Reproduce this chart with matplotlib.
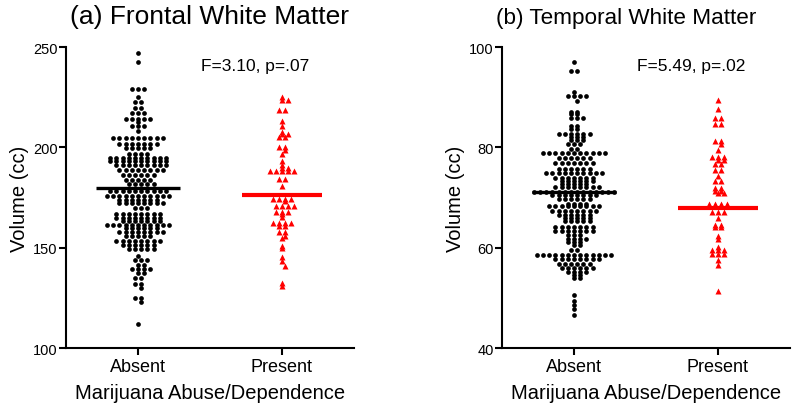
import numpy as np
import matplotlib
matplotlib.use("Agg")
import matplotlib.pyplot as plt

plt.rcParams["font.family"] = ["Liberation Sans", "DejaVu Sans"]

groups = ["Absent", "Present"]

# (a) frontal white matter volume (cc), read row by row off the swarm
frontal_absent = [
    247.0, 242.7,
    229.0, 229.0, 229.0,
    225.3,
    222.7, 222.7,
    219.5, 219.5,
    217.3, 217.3, 217.3,
    214.0, 214.0, 214.0, 214.0, 214.0,
    212.5,
    210.7, 210.7, 210.7,
    208.0,
    204.6, 204.6, 204.6, 204.6, 204.6, 204.6, 204.6, 204.6, 204.6,
    201.6, 201.6, 201.6, 201.6, 201.6, 201.6, 201.6,
    199.7, 199.7, 199.7, 199.7, 199.7,
    196.6, 196.6, 196.6, 196.6,
    194.9, 194.9, 194.9, 194.9, 194.9, 194.9, 194.9, 194.9, 194.9, 194.9,
    193.0, 193.0, 193.0, 193.0, 193.0, 193.0, 193.0, 193.0, 193.0, 193.0,
    191.0, 191.0, 191.0, 191.0, 191.0, 191.0, 191.0, 191.0, 191.0,
    188.6, 188.6, 188.6, 188.6, 188.6, 188.6, 188.6, 188.6,
    186.0, 186.0, 186.0, 186.0, 186.0, 186.0,
    183.8, 183.8, 183.8, 183.8, 183.8,
    181.5, 181.5, 181.5, 181.5, 181.5,
    178.4, 178.4, 178.4, 178.4, 178.4, 178.4, 178.4, 178.4, 178.4, 178.4,
    175.9, 175.9, 175.9, 175.9, 175.9, 175.9, 175.9, 175.9, 175.9, 175.9, 175.9,
    173.9, 173.9, 173.9, 173.9, 173.9, 173.9, 173.9,
    172.2, 172.2, 172.2, 172.2, 172.2, 172.2, 172.2, 172.2,
    170.0, 170.0, 170.0,
    167.0, 167.0, 167.0, 167.0, 167.0, 167.0, 167.0, 167.0,
    165.0, 165.0, 165.0, 165.0, 165.0, 165.0, 165.0, 165.0,
    163.4, 163.4, 163.4, 163.4, 163.4, 163.4, 163.4,
    161.2, 161.2, 161.2, 161.2, 161.2, 161.2, 161.2, 161.2, 161.2, 161.2, 161.2,
    159.6, 159.6, 159.6, 159.6, 159.6, 159.6,
    157.6, 157.6, 157.6, 157.6, 157.6, 157.6, 157.6, 157.6,
    155.6, 155.6, 155.6, 155.6, 155.6,
    153.4, 153.4, 153.4, 153.4, 153.4, 153.4, 153.4, 153.4,
    151.4, 151.4, 151.4, 151.4, 151.4, 151.4,
    149.3, 149.3, 149.3, 149.3, 149.3,
    146.0,
    143.8, 143.8, 143.8,
    141.3, 141.3,
    139.3, 139.3, 139.3, 139.3,
    137.2, 137.2,
    134.7, 134.7,
    131.9, 131.9,
    129.9,
    124.7, 124.7,
    122.7,
    112.0,
]
frontal_present = [
    224.9,
    223.5, 223.5,
    218.5, 218.5,
    213.2,
    210.4,
    207.7,
    206.6, 206.6,
    205.2, 205.2,
    200.4, 200.4,
    198.8,
    196.6,
    193.0,
    191.1,
    189.8, 189.8,
    188.0, 188.0, 188.0, 188.0, 188.0,
    184.2, 184.2,
    180.8,
    174.5, 174.5, 174.5, 174.5,
    173.3,
    170.9, 170.9, 170.9, 170.9,
    168.0, 168.0, 168.0,
    166.8,
    165.1,
    162.1, 162.1, 162.1, 162.1,
    160.9, 160.9,
    157.9, 157.9,
    155.9,
    154.6,
    151.0,
    149.8,
    145.5,
    143.5,
    141.0,
    132.2,
    131.0,
]
frontal_means = [179.7, 176.4]
frontal_stats = "F=3.10, p=.07"

# (b) temporal white matter volume (cc)
temporal_absent = [
    97.1,
    95.3, 95.3,
    91.0,
    90.2, 90.2, 90.2, 90.2,
    89.3,
    87.1, 87.1,
    86.6, 86.6,
    85.9, 85.9, 85.9,
    84.3, 84.3,
    83.7, 83.7,
    82.6, 82.6, 82.6, 82.6, 82.6, 82.6,
    82.1, 82.1, 82.1,
    81.5, 81.5, 81.5,
    80.6, 80.6, 80.6,
    79.7, 79.7,
    78.8, 78.8, 78.8, 78.8, 78.8, 78.8, 78.8, 78.8, 78.8, 78.8, 78.8,
    77.9, 77.9, 77.9, 77.9, 77.9, 77.9,
    76.8, 76.8, 76.8, 76.8, 76.8, 76.8, 76.8,
    75.6, 75.6, 75.6, 75.6, 75.6, 75.6,
    74.8, 74.8, 74.8, 74.8, 74.8, 74.8, 74.8, 74.8, 74.8, 74.8,
    73.9, 73.9, 73.9, 73.9, 73.9, 73.9, 73.9,
    73.3, 73.3, 73.3, 73.3, 73.3, 73.3,
    72.6, 72.6, 72.6, 72.6, 72.6,
    72.1, 72.1, 72.1, 72.1, 72.1, 72.1, 72.1, 72.1,
    71.1, 71.1, 71.1, 71.1, 71.1, 71.1, 71.1, 71.1, 71.1, 71.1, 71.1, 71.1, 71.1, 71.1,
    70.5, 70.5, 70.5, 70.5, 70.5, 70.5, 70.5, 70.5,
    69.7, 69.7, 69.7, 69.7, 69.7, 69.7,
    68.8, 68.8, 68.8, 68.8,
    68.3, 68.3, 68.3, 68.3, 68.3, 68.3, 68.3, 68.3, 68.3,
    67.3, 67.3, 67.3, 67.3, 67.3, 67.3, 67.3, 67.3,
    66.5, 66.5, 66.5, 66.5, 66.5, 66.5,
    65.9, 65.9, 65.9, 65.9, 65.9,
    65.3, 65.3, 65.3, 65.3, 65.3,
    64.1, 64.1, 64.1, 64.1, 64.1, 64.1, 64.1,
    63.3, 63.3, 63.3, 63.3, 63.3, 63.3, 63.3,
    62.5, 62.5, 62.5,
    61.8, 61.8, 61.8, 61.8,
    61.1, 61.1, 61.1,
    60.5, 60.5,
    59.6, 59.6,
    58.5, 58.5, 58.5, 58.5, 58.5, 58.5, 58.5, 58.5, 58.5, 58.5, 58.5, 58.5, 58.5,
    57.7, 57.7, 57.7, 57.7, 57.7, 57.7, 57.7, 57.7,
    56.8, 56.8, 56.8, 56.8, 56.8, 56.8,
    55.9, 55.9, 55.9, 55.9, 55.9, 55.9,
    55.1, 55.1, 55.1, 55.1,
    54.5, 54.5,
    53.9, 53.9,
    50.6, 49.3, 48.5, 47.8, 46.6,
]
temporal_present = [
    89.5,
    87.6,
    85.9, 85.9,
    84.6, 84.6,
    81.3, 81.3,
    80.6,
    79.5,
    78.0, 78.0, 78.0,
    77.5, 77.5,
    76.6, 76.6,
    75.5, 75.5,
    74.3,
    73.3, 73.3,
    71.8, 71.8,
    71.3, 71.3,
    70.8, 70.8,
    68.8, 68.8, 68.8, 68.8,
    68.5, 68.5, 68.5,
    67.1, 67.1, 67.1,
    65.9,
    64.5, 64.5,
    64.1, 64.1,
    62.3,
    61.8,
    60.1,
    59.5, 59.5, 59.5,
    58.8, 58.8, 58.8,
    57.6,
    56.5,
    51.4,
]
temporal_means = [71.0, 67.9]
temporal_stats = "F=5.49, p=.02"


def swarm_x(values, px_per_y, px_per_x, gap=6.2):
    # rows of equal value are spread sideways; each row picks the phase
    # that clashes least with rows already placed
    vals = np.asarray(values, dtype=float)
    xs = np.zeros(len(vals))
    placed = []
    for v in sorted(set(vals), reverse=True):
        idx = np.where(vals == v)[0]
        n = len(idx)
        y = v * px_per_y
        best = None
        for phase in ([0.0, gap / 2] if n % 2 else [gap / 2, 0.0]):
            grid = phase + gap * np.arange(-n - 2, n + 3)
            grid = sorted(grid, key=lambda g: (round(abs(g), 6), -g))[:n]
            hits = 0
            for gx in grid:
                for px, py in placed:
                    if (gx - px) ** 2 + (y - py) ** 2 < (0.85 * gap) ** 2:
                        hits += 1
            if best is None or hits < best[0]:
                best = (hits, grid)
        for i, gx in zip(idx, best[1]):
            xs[i] = gx / px_per_x
            placed.append((gx, y))
    return xs


fig = plt.figure(figsize=(8, 4.14), dpi=100)
W, H = 800, 414

# the two panels were pasted side by side, so their titles differ in size
panels = [
    ([0.0825, 0.157, 0.36, 0.727], "(a) Frontal White Matter", 19, 0.5,
     frontal_absent, frontal_present, frontal_means, frontal_stats,
     (100, 250), [100, 150, 200, 250]),
    ([0.6275, 0.157, 0.36, 0.727], "(b) Temporal White Matter", 16.2, 0.43,
     temporal_absent, temporal_present, temporal_means, temporal_stats,
     (40, 100), [40, 60, 80, 100]),
]

for (rect, title, tsize, tx, absent, present, means, stats,
     ylim, yticks) in panels:
    ax = fig.add_axes(rect)
    ax.set_xlim(-0.5, 1.5)
    ax.set_ylim(*ylim)
    px_per_y = rect[3] * H / (ylim[1] - ylim[0])
    px_per_x = rect[2] * W / 2.0

    xa = swarm_x(absent, px_per_y, px_per_x)
    xp = swarm_x(present, px_per_y, px_per_x)
    ax.plot(0 + xa, absent, "o", color="black", ms=3.4, mec="none",
            clip_on=False)
    ax.plot(1 + xp, present, "^", color="#ff0000", ms=3.9, mec="none",
            clip_on=False)

    ax.plot([-0.29, 0.29], [means[0], means[0]], color="black", lw=2.4,
            solid_capstyle="butt")
    ax.plot([1 - 0.28, 1 + 0.28], [means[1], means[1]], color="#ff0000",
            lw=3.0, solid_capstyle="butt")

    ax.text(0.44, ylim[0] + 0.94 * (ylim[1] - ylim[0]), stats,
            fontsize=12.5, ha="left", va="center")

    ax.set_title(title, fontsize=tsize, pad=17, x=tx)
    ax.set_xticks([0, 1])
    ax.set_xticklabels(groups, fontsize=13)
    ax.set_yticks(yticks)
    ax.tick_params(axis="y", labelsize=10.5, length=5, width=1.5, pad=1)
    ax.tick_params(axis="x", length=5, width=1.5, pad=2)
    ax.set_ylabel("Volume (cc)", fontsize=14.5, labelpad=3)
    ax.set_xlabel("Marijuana Abuse/Dependence", fontsize=14.5, labelpad=6)
    ax.spines["top"].set_visible(False)
    ax.spines["right"].set_visible(False)
    ax.spines["left"].set_linewidth(1.5)
    ax.spines["bottom"].set_linewidth(1.5)

fig.savefig("out.png", dpi=100)
